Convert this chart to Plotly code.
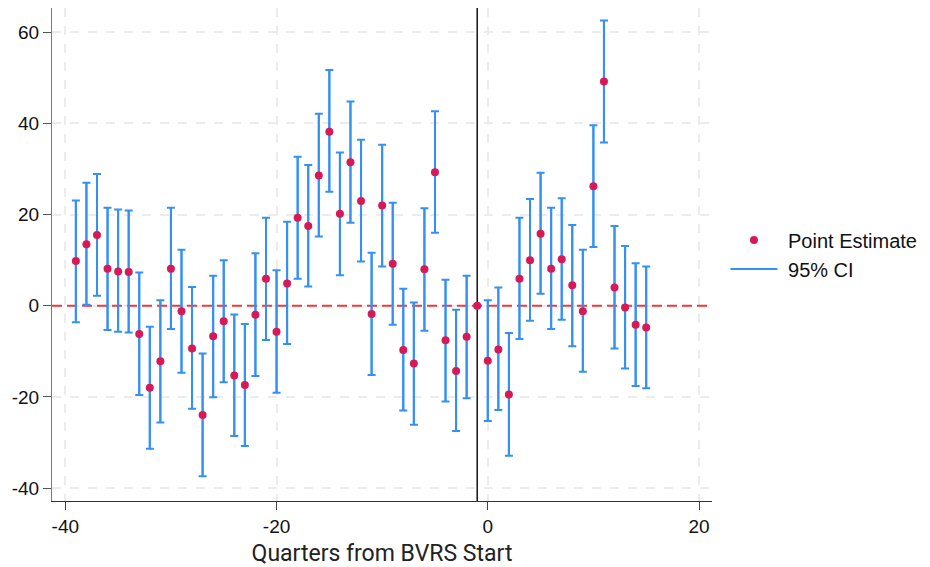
import plotly.graph_objects as go

# ---------------- data ----------------
quarters = list(range(-39, 16))
estimates = [9.8, 13.5, 15.5, 8.1, 7.5, 7.4, -6.2, -18.0, -12.2, 8.1,
             -1.2, -9.4, -24.0, -6.7, -3.4, -15.3, -17.4, -2.0, 5.9, -5.7,
             4.9, 19.3, 17.5, 28.6, 38.2, 20.2, 31.5, 23.0, -1.8, 22.0,
             9.2, -9.7, -12.7, 8.0, 29.3, -7.6, -14.3, -6.8, 0.0, -12.1,
             -9.6, -19.5, 5.9, 10.0, 15.8, 8.1, 10.2, 4.5, -1.2, 26.2,
             49.2, 4.0, -0.4, -4.2, -4.8]
ci_lower = [-3.6, 0.2, 2.2, -5.3, -5.7, -5.9, -19.6, -31.4, -25.6, -5.1,
            -14.7, -22.6, -37.4, -20.1, -16.8, -28.6, -30.8, -15.4, -7.5, -19.1,
            -8.4, 5.9, 4.2, 15.2, 25.0, 6.7, 18.2, 9.7, -15.2, 8.6,
            -4.2, -23.0, -26.1, -5.5, 16.0, -21.0, -27.5, -20.3, 0.0, -25.3,
            -22.9, -32.9, -7.3, -3.3, 2.6, -5.1, -3.1, -8.9, -14.5, 12.9,
            35.8, -9.4, -13.8, -17.6, -18.1]
ci_upper = [23.1, 27.0, 28.9, 21.5, 21.1, 20.9, 7.3, -4.6, 1.2, 21.5,
            12.3, 4.1, -10.5, 6.6, 10.0, -1.9, -4.0, 11.5, 19.3, 7.8,
            18.4, 32.7, 30.9, 42.1, 51.7, 33.6, 44.8, 36.4, 11.6, 35.3,
            22.6, 3.7, 0.7, 21.4, 42.7, 5.7, -0.9, 6.6, 0.0, 1.2,
            4.0, -6.0, 19.3, 23.4, 29.2, 21.5, 23.6, 17.7, 12.3, 39.6,
            62.6, 17.5, 13.1, 9.3, 8.6]
x_ticks = [-40, -20, 0, 20]
x_tick_labels = ["-40", "-20", "0", "20"]
y_ticks = [-40, -20, 0, 20, 40, 60]
y_tick_labels = ["-40", "-20", "0", "20", "40", "60"]
event_quarter = -1
null_value = 0
x_range = [-41.26, 21.23]
y_range = [-42.85, 65.33]

# ---------------- figure ----------------
err_plus = [u - e for u, e in zip(ci_upper, estimates)]
err_minus = [e - l for e, l in zip(estimates, ci_lower)]

ci_x, ci_y = [], []
for t, lo, hi in zip(quarters, ci_lower, ci_upper):
    ci_x += [t, t, None]
    ci_y += [lo, hi, None]

BLUE = "#3590f3"
RED_DOT = "#d71a57"
NBSP = "\u00a0"

fig = go.Figure()
# reference lines
fig.add_trace(go.Scatter(
    x=[event_quarter, event_quarter], y=y_range, mode="lines", showlegend=False,
    line=dict(color="#111111", width=1.5), hoverinfo="skip"))
fig.add_trace(go.Scatter(
    x=x_range, y=[null_value, null_value], mode="lines", showlegend=False,
    line=dict(color="#f03a3a", width=2, dash="10px,5px"), hoverinfo="skip"))
# CI whiskers (legend entry)
fig.add_trace(go.Scatter(
    x=ci_x, y=ci_y, mode="lines", name=NBSP + "95% CI", legendrank=2,
    line=dict(color=BLUE, width=2)))
# point estimates with capped error bars
fig.add_trace(go.Scatter(
    x=quarters, y=estimates, mode="markers", name=NBSP + "Point Estimate", legendrank=1,
    marker=dict(color=RED_DOT, size=8),
    error_y=dict(type="data", symmetric=False, array=err_plus,
                 arrayminus=err_minus, color=BLUE, thickness=2, width=4)))

tick_font = dict(family="Liberation Sans, Arial, sans-serif", size=19, color="#111111")
fig.update_layout(
    width=930, height=567,
    margin=dict(l=52, r=216, t=8, b=66),
    plot_bgcolor="white", paper_bgcolor="white",
    showlegend=True,
    legend=dict(x=1.0204, xanchor="left", y=0.5, yanchor="middle",
                itemwidth=47,
                font=dict(family="Liberation Sans, Arial, sans-serif", size=20, color="#111111"),
                bgcolor="rgba(0,0,0,0)"),
    xaxis=dict(
        range=x_range, tickvals=x_ticks, ticktext=x_tick_labels, automargin=False,
        showgrid=True, gridcolor="#ececec", gridwidth=1.5, griddash="dash",
        zeroline=False, showline=True, linecolor="#333333", linewidth=1.2,
        ticks="outside", ticklen=8, tickcolor="#444444", tickfont=tick_font,
        title=dict(text="Quarters from BVRS Start", standoff=8,
                   font=dict(family="Roboto, sans-serif", size=23, color="#222222")),
    ),
    yaxis=dict(
        range=y_range, tickvals=y_ticks, ticktext=y_tick_labels, automargin=False,
        showgrid=True, gridcolor="#ececec", gridwidth=1.5, griddash="dash",
        zeroline=False, showline=True, linecolor="#7a7a7a", linewidth=1.2,
        ticks="outside", ticklen=8, tickcolor="#555555", tickfont=tick_font,
    ),
)

fig.write_html(
    "out.html",
    config={"displayModeBar": False},
    post_script="document.body.style.margin='0';document.body.style.overflow='hidden';",
)
